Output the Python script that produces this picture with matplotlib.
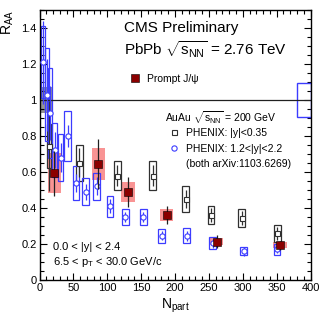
import matplotlib
matplotlib.use("Agg")
import matplotlib.pyplot as plt
from matplotlib.lines import Line2D
from matplotlib.ticker import MultipleLocator, FuncFormatter
import numpy as np

plt.rcParams['font.family'] = ['Liberation Sans', 'DejaVu Sans']
plt.rcParams['mathtext.fontset'] = 'custom'
plt.rcParams['mathtext.rm'] = 'Liberation Sans'
plt.rcParams['mathtext.it'] = 'Liberation Sans:italic'
plt.rcParams['mathtext.bf'] = 'Liberation Sans:bold'

# ---------------- data ----------------
# CMS prompt J/psi
npart_cms = np.array([22, 87, 131, 187.5, 261.5, 355])
raa_cms = np.array([0.593, 0.644, 0.49, 0.361, 0.213, 0.194])
stat_cms = np.array([0.125, 0.14, 0.085, 0.05, 0.035, 0.025])
syst_cms = np.array([0.11, 0.09, 0.055, 0.032, 0.02, 0.016])

# PHENIX |y|<0.35
npart_mid = np.array([14.5, 58.8, 114.9, 167, 215.8, 253, 298.5, 351])
raa_mid = np.array([0.744, 0.652, 0.58, 0.58, 0.45, 0.361, 0.343, 0.259])
stat_mid = np.array([0.25, 0.08, 0.06, 0.06, 0.05, 0.04, 0.04, 0.035])
syst_mid = np.array([0.12, 0.1, 0.08, 0.08, 0.07, 0.052, 0.05, 0.047])

# PHENIX 1.2<|y|<2.2
npart_fwd = np.array([5.6, 11.0, 15.5, 22.5, 31, 41.5, 54, 68, 84.5, 104,
                      126.5, 153.3, 180.5, 217.5, 255.6, 301.4, 350.6])
raa_fwd = np.array([1.21, 1.03, 0.93, 0.72, 0.68, 0.80, 0.54, 0.49, 0.52, 0.41,
                    0.35, 0.35, 0.245, 0.245, 0.204, 0.161, 0.17])
stat_fwd = np.array([0.23, 0.2, 0.15, 0.1, 0.08, 0.06, 0.05, 0.045, 0.05, 0.04,
                     0.03, 0.03, 0.025, 0.03, 0.025, 0.025, 0.02])
syst_fwd = np.array([0.2, 0.26, 0.25, 0.15, 0.13, 0.14, 0.095, 0.075, 0.075, 0.058,
                     0.044, 0.044, 0.04, 0.042, 0.033, 0.022, 0.031])

# global uncertainties
cms_global = 0.07
phenix_global = 0.092

W, H = 332, 319
fig = plt.figure(figsize=(W / 100, H / 100), dpi=100)
ax = fig.add_axes([39.5 / W, 1 - 280 / H, 271 / W, 270 / H])

def fx(px):
    return px / W

def fy(py):
    return 1 - py / H

red_box = '#F99494'
blue = '#3C3CFF'
dark = '#303030'
cms_col = '#8B0000'

# global uncertainty boxes
ax.bar([10], [2 * cms_global], bottom=1 - cms_global, width=20,
       color='#707070', alpha=0.75, linewidth=0, zorder=1)
ax.bar([390], [2 * phenix_global], bottom=1 - phenix_global, width=20,
       fill=False, edgecolor=blue, linewidth=1.0, zorder=2)

# CMS systematic boxes
ax.bar(npart_cms, 2 * syst_cms, bottom=raa_cms - syst_cms, width=20,
       color=red_box, linewidth=0, zorder=1.5)

# PHENIX boxes
w_mid = np.where(npart_mid < 20, 6, 10)
ax.bar(npart_mid, 2 * syst_mid, bottom=raa_mid - syst_mid, width=w_mid,
       fill=False, edgecolor=dark, linewidth=0.9, zorder=2)
w_fwd = np.where(npart_fwd < 20, 6, np.where(npart_fwd < 35, 8, 10))
ax.bar(npart_fwd, 2 * syst_fwd, bottom=raa_fwd - syst_fwd, width=w_fwd,
       fill=False, edgecolor=blue, linewidth=0.9, zorder=2)

ax.axhline(1.0, color='#202020', lw=0.9, zorder=2.5)

# stat error bars
ax.errorbar(npart_mid, raa_mid, yerr=stat_mid, fmt='none', ecolor=dark,
            elinewidth=0.9, capsize=0, zorder=3)
ax.errorbar(npart_fwd, raa_fwd, yerr=stat_fwd, fmt='none', ecolor=blue,
            elinewidth=0.9, capsize=0, zorder=3)
ax.errorbar(npart_cms, raa_cms, yerr=stat_cms, fmt='none', ecolor='#202020',
            elinewidth=0.9, capsize=0, zorder=4)

# markers
ax.plot(npart_mid, raa_mid, 's', ms=3.6, mfc='white', mec=dark, mew=0.8,
        ls='none', zorder=3.5)
ax.plot(npart_fwd, raa_fwd, 'o', ms=3.8, mfc='white', mec=blue, mew=0.8,
        ls='none', zorder=3.5)
ax.plot(npart_cms, raa_cms, 's', ms=5.2, mfc=cms_col, mec='black', mew=0.4,
        ls='none', zorder=5)

ax.set_xlim(0, 400)
ax.set_ylim(0, 1.5)
ax.xaxis.set_major_locator(MultipleLocator(50))
ax.xaxis.set_minor_locator(MultipleLocator(10))
ax.yaxis.set_major_locator(MultipleLocator(0.2))
ax.yaxis.set_minor_locator(MultipleLocator(0.05))
ax.yaxis.set_major_formatter(FuncFormatter(lambda v, p: f"{v:g}"))
ax.tick_params(which='both', direction='in', top=True, right=True,
               labelsize=8, width=0.8, pad=2)
ax.tick_params(which='major', length=5)
ax.tick_params(which='minor', length=2.6)
for s in ax.spines.values():
    s.set_linewidth(1.0)

# axis labels
fig.text(fx(8), fy(10), r'R$_{\rm AA}$', rotation=90, ha='center', va='top',
         fontsize=10)
fig.text(fx(175), fy(309), r'N$_{\rm part}$', ha='center', va='baseline',
         fontsize=10)

# texts
fig.text(fx(124), fy(32), 'CMS Preliminary', fontsize=11, va='baseline')
fig.text(fx(124), fy(55), r'PbPb $\sqrt{\mathrm{s}_{\mathrm{NN}}}$ = 2.76 TeV',
         fontsize=11, va='baseline')
fig.text(fx(165), fy(122), r'AuAu $\sqrt{\mathrm{s}_{\mathrm{NN}}}$ = 200 GeV',
         fontsize=7.5, va='baseline')
fig.text(fx(53), fy(250), '0.0 < |y| < 2.4', fontsize=8, va='baseline')
fig.text(fx(53), fy(265), r'6.5 < p$_{\mathrm{T}}$ < 30.0 GeV/c', fontsize=8,
         va='baseline')

# legends
h_cms = Line2D([], [], marker='s', ms=5.2, mfc=cms_col, mec='black', mew=0.4,
               ls='none')
leg1 = ax.legend([h_cms], ['Prompt J/ψ'], loc='center left',
                 bbox_to_anchor=(fx(130), fy(79)), bbox_transform=fig.transFigure,
                 frameon=False, fontsize=7.5, handlelength=1.0,
                 handletextpad=0.6, borderpad=0, borderaxespad=0)
ax.add_artist(leg1)

h_mid = Line2D([], [], marker='s', ms=3.6, mfc='white', mec=dark, mew=0.8,
               ls='none')
h_fwd = Line2D([], [], marker='o', ms=3.8, mfc='white', mec=blue, mew=0.8,
               ls='none')
h_none = Line2D([], [], ls='none')
leg2 = ax.legend([h_mid, h_fwd, h_none],
                 ['PHENIX: |y|<0.35', 'PHENIX: 1.2<|y|<2.2',
                  '(both arXiv:1103.6269)'],
                 loc='upper left', bbox_to_anchor=(fx(169), fy(128)),
                 bbox_transform=fig.transFigure, frameon=False, fontsize=7.5,
                 handlelength=1.0, handletextpad=0.6, labelspacing=0.55,
                 borderpad=0, borderaxespad=0)

fig.savefig('out.png', dpi=100)
